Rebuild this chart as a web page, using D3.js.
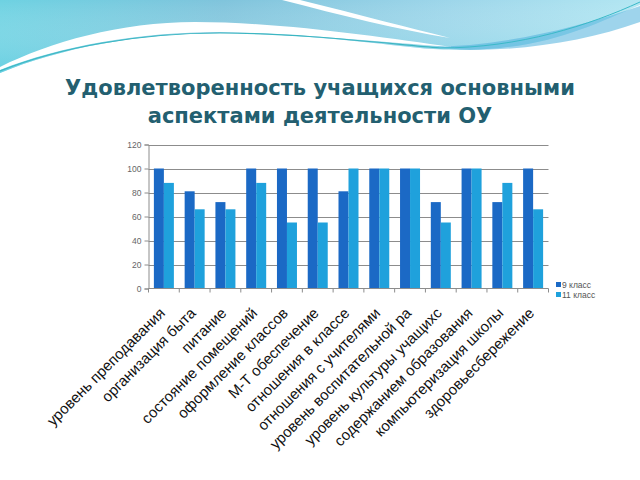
<!DOCTYPE html>
<html><head><meta charset="utf-8">
<script src="https://cdn.jsdelivr.net/npm/d3@7"></script>
<style>html,body{margin:0;padding:0;background:#fff;}svg{display:block;}</style>
</head><body>
<script>
const categories = ["уровень преподавания","организация быта","питание","состояние помещений","оформление классов","М-Т обеспечение","отношения в классе","отношения с учителями","уровень воспитательной ра","уровень культуры учащихс","содержанием образования","компьютеризация школы","здоровьесбережение"];
const seriesNames = ["9 класс","11 класс"];
const grade9 = [100,81,72,100,100,100,81,100,100,72,100,72,100];
const grade11 = [88,66,66,88,55,55,100,100,100,55,100,88,66];
const yTicks = [0,20,40,60,80,100,120];
const titleLines = ["Удовлетворенность учащихся основными","аспектами деятельности ОУ"];
const colors = ["#1b69c5","#1fa1dc"];

const W=640,H=480;
const svg=d3.select("body").append("svg").attr("width",W).attr("height",H);
const defs=svg.append("defs");
const g1=defs.append("linearGradient").attr("id","tealg").attr("x1","0").attr("x2","1").attr("y1","0").attr("y2","0");
g1.append("stop").attr("offset","0").attr("stop-color","#6ed2e2");
g1.append("stop").attr("offset","0.35").attr("stop-color","#80c4dc");
g1.append("stop").attr("offset","0.7").attr("stop-color","#9dd6ea");
g1.append("stop").attr("offset","1").attr("stop-color","#b2e6f2");
const g2=defs.append("linearGradient").attr("id","tealv").attr("x1","0").attr("x2","0").attr("y1","0").attr("y2","1");
g2.append("stop").attr("offset","0").attr("stop-color","#ffffff").attr("stop-opacity","0");
g2.append("stop").attr("offset","1").attr("stop-color","#5ccbe0").attr("stop-opacity","0.5");

// decorative wave
const waveD="M0,0 H640 V5 C600,22 560,42 500,48 C470,51 440,50 420,48 C360,42 300,34 220,33 C140,33 60,48 0,73 Z";
svg.append("path").attr("fill","url(#tealg)").attr("d",waveD);
svg.append("path").attr("fill","url(#tealv)").attr("d",waveD);
svg.append("path").attr("fill","#4fb0dc").attr("opacity",0.55)
  .attr("d","M430,47 C500,46 570,30 640,6 V22 C590,40 530,50 470,50 Z");
svg.append("path").attr("fill","#ffffff")
  .attr("d","M0,67 C50,42 120,22 195,22 C280,22 380,37 452,47 C400,44 310,34 220,32 C140,32 60,46 0,70 Z");
svg.append("path").attr("fill","#ffffff")
  .attr("d","M282,0 L300,0 C360,15 410,28 450,38 C400,30 340,15 282,0 Z");
svg.append("path").attr("fill","none").attr("stroke","#3cb6c2").attr("stroke-width",1.2)
  .attr("d","M0,71 C60,47 140,33 220,33 C300,33 390,44 440,48");
svg.append("path").attr("fill","none").attr("stroke","#3ab9c8").attr("stroke-width",1)
  .attr("d","M440,48 C520,48 590,25 640,2");

// title
const title=svg.append("g").attr("font-family","DejaVu Sans, Verdana, sans-serif").attr("font-weight","bold").attr("fill","#235f70").attr("text-anchor","middle");
title.selectAll("text").data(titleLines).join("text")
  .attr("x",320).attr("y",(d,i)=>95+i*28).attr("font-size",21).text(d=>d);

// chart
const x0=148.5,x1=548.5,yTop=144.5,yBot=288.5;
const x=d3.scaleBand().domain(categories).range([x0,x1]).paddingInner(0.35).paddingOuter(0.175);
const xs=d3.scaleBand().domain(seriesNames).range([0,x.bandwidth()]);
const y=d3.scaleLinear().domain([0,120]).range([yBot,yTop]);

// gridlines
svg.append("g").selectAll("line").data(yTicks.filter(t=>t>0)).join("line")
  .attr("x1",x0).attr("x2",x1).attr("y1",d=>Math.round(y(d))+0.5).attr("y2",d=>Math.round(y(d))+0.5)
  .attr("stroke","#8c8c8c").attr("stroke-width",1);

// bars
const data=categories.map((c,i)=>({c,vals:[grade9[i],grade11[i]]}));
const grp=svg.append("g").selectAll("g").data(data).join("g").attr("transform",d=>`translate(${x(d.c)},0)`);
grp.selectAll("rect").data(d=>d.vals.map((v,j)=>({v,s:seriesNames[j],j}))).join("rect")
  .attr("x",d=>xs(d.s)).attr("width",xs.bandwidth())
  .attr("y",d=>y(d.v)).attr("height",d=>yBot-y(d.v))
  .attr("fill",d=>colors[d.j]);

// y axis
const yAxis=svg.append("g").attr("transform",`translate(${x0},0)`)
  .call(d3.axisLeft(y).tickValues(yTicks).tickSize(4).tickPadding(3));
yAxis.select(".domain").attr("stroke","#8c8c8c");
yAxis.selectAll(".tick line").attr("stroke","#8c8c8c");
yAxis.selectAll("text").attr("font-family","Liberation Sans, Arial, sans-serif").attr("font-size",8.5).attr("fill","#666");

// x axis
const xa=svg.append("g");
xa.append("line").attr("x1",x0).attr("x2",x1).attr("y1",yBot).attr("y2",yBot).attr("stroke","#8c8c8c");
const step=x.step();
xa.selectAll("line.t").data(d3.range(categories.length+1)).join("line").attr("class","t")
  .attr("x1",i=>x0+i*step).attr("x2",i=>x0+i*step).attr("y1",yBot).attr("y2",yBot+4).attr("stroke","#8c8c8c");
xa.selectAll("text").data(categories).join("text")
  .attr("transform",d=>`translate(${x(d)+x.bandwidth()/2+2},314) rotate(-45)`)
  .attr("text-anchor","end").attr("font-family","Liberation Sans, Arial, sans-serif").attr("font-size",15).attr("fill","#111")
  .text(d=>d);

// legend
const lg=svg.append("g").attr("transform","translate(556,282)");
seriesNames.forEach((s,i)=>{
  lg.append("rect").attr("x",0).attr("y",i*10).attr("width",5).attr("height",5).attr("fill",colors[i]);
  lg.append("text").attr("x",6).attr("y",i*10+5.5).attr("font-family","Liberation Sans, Arial, sans-serif").attr("font-size",8.5).attr("fill","#555").text(s);
});
</script>
</body></html>
